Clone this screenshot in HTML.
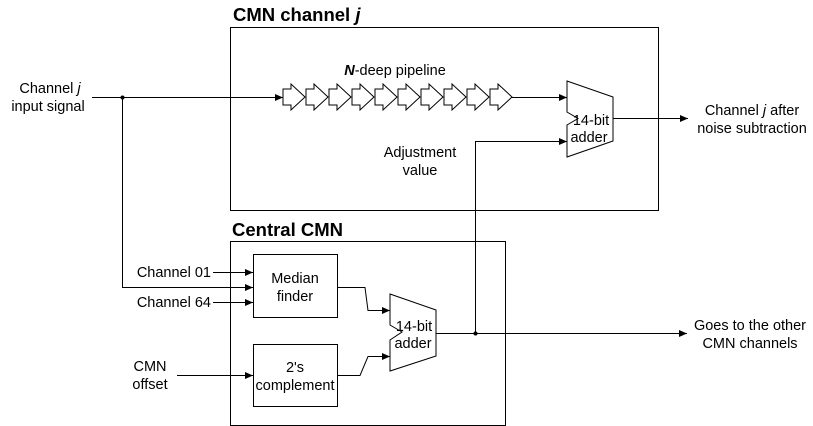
<!DOCTYPE html>
<html><head><style>
html,body{margin:0;padding:0;background:#fff;}
svg{display:block;font-family:"Liberation Sans",Arial,sans-serif;}
</style></head><body>
<svg width="813" height="426" viewBox="0 0 813 426" xmlns="http://www.w3.org/2000/svg">
<defs>
<marker id="a" markerWidth="8" markerHeight="8" refX="8" refY="4" orient="auto" markerUnits="userSpaceOnUse">
<path d="M0,0.5 L8,4 L0,7.5 z" fill="#000"/></marker>
</defs>
<g fill="none" stroke="#000" stroke-width="1">
<rect x="230.5" y="27.5" width="428" height="183"/>
<rect x="230.5" y="241.5" width="275" height="184"/>
<rect x="253.5" y="254.5" width="84" height="63"/>
<rect x="253.5" y="344.5" width="84" height="62"/>
<path d="M92,97.5 H283" marker-end="url(#a)"/>
<path d="M122.5,97 V287.5 H253" marker-end="url(#a)"/>
<path d="M213,272.5 H253" marker-end="url(#a)"/>
<path d="M213,302.5 H253" marker-end="url(#a)"/>
<path d="M177,375.5 H253" marker-end="url(#a)"/>
<g id="chev">
<path d="M283,89 H291 V84 L305,97 L291,110 V105 H283 Z" fill="#fff"/>
</g>
<use href="#chev" x="23"/><use href="#chev" x="46"/><use href="#chev" x="69"/><use href="#chev" x="92"/>
<use href="#chev" x="115"/><use href="#chev" x="138"/><use href="#chev" x="161"/><use href="#chev" x="184"/><use href="#chev" x="207"/>
<path d="M512,97.5 H567" marker-end="url(#a)"/>
<path d="M567,81 L613,97 L613,141 L567,157 L567,125 L578,118.5 L567,112 Z"/>
<path d="M613,118.5 H688" marker-end="url(#a)"/>
<path d="M475.5,333 V141.5 H567" marker-end="url(#a)"/>
<path d="M390,294 L436,310 L436,356 L390,371 L390,340 L402,332 L390,325 Z"/>
<path d="M337,287.5 H365 L368,310.5 H390" marker-end="url(#a)"/>
<path d="M337,375.5 H360 L368,356.5 H390" marker-end="url(#a)"/>
<path d="M436,333.5 H687" marker-end="url(#a)"/>
</g>
<circle cx="122.5" cy="97.5" r="2" fill="#000"/>
<circle cx="475.5" cy="333.5" r="2" fill="#000"/>
<g font-size="14.5" fill="#000">
<text x="233" y="21" font-size="18.5" font-weight="bold">CMN channel <tspan font-style="italic">j</tspan></text>
<text x="232" y="236" font-size="18.5" font-weight="bold">Central CMN</text>
<text x="50" y="93" text-anchor="middle">Channel <tspan font-style="italic">j</tspan></text>
<text x="48" y="111" text-anchor="middle">input signal</text>
<text x="395" y="75" text-anchor="middle"><tspan font-weight="bold" font-style="italic">N</tspan>-deep pipeline</text>
<text x="591" y="125" text-anchor="middle">14-bit</text>
<text x="589" y="142" text-anchor="middle">adder</text>
<text x="420" y="157" text-anchor="middle">Adjustment</text>
<text x="420" y="175" text-anchor="middle">value</text>
<text x="752" y="115" text-anchor="middle">Channel <tspan font-style="italic">j</tspan> after</text>
<text x="752" y="133" text-anchor="middle">noise subtraction</text>
<text x="750" y="330" text-anchor="middle">Goes to the other</text>
<text x="750" y="348" text-anchor="middle">CMN channels</text>
<text x="211" y="277" text-anchor="end">Channel 01</text>
<text x="211" y="307" text-anchor="end">Channel 64</text>
<text x="150" y="371" text-anchor="middle">CMN</text>
<text x="150" y="389" text-anchor="middle">offset</text>
<text x="295" y="283" text-anchor="middle">Median</text>
<text x="295" y="301" text-anchor="middle">finder</text>
<text x="295" y="372" text-anchor="middle">2's</text>
<text x="295" y="390" text-anchor="middle">complement</text>
<text x="414" y="331" text-anchor="middle">14-bit</text>
<text x="413" y="348" text-anchor="middle">adder</text>
</g>
</svg>
</body></html>
